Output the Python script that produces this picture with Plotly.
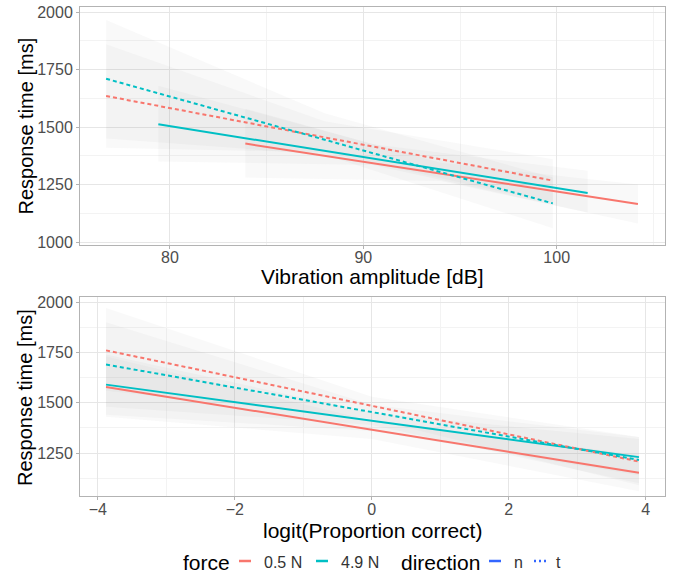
import plotly.graph_objects as go

RED = "#F8766D"
TEAL = "#00BFC4"
BLUE = "#3366FF"

# ---- Top panel: Vibration amplitude [dB] ----
top_colors = [RED, TEAL, RED, TEAL]
top_dash = ["n", "n", "t", "t"]
top_x_start = [83.9, 79.4, 76.7, 76.7]
top_x_mid = [94.0, 90.5, 88.0, 88.0]
top_x_end = [104.2, 101.6, 99.8, 99.8]
top_y_start = [1428, 1512, 1635, 1710]
top_y_end = [1165, 1213, 1267, 1168]
top_lo = [[1280, 1265, 1080], [1350, 1335, 1128], [1410, 1390, 1170], [1450, 1380, 1060]]
top_hi = [[1580, 1345, 1250], [1680, 1425, 1310], [1860, 1525, 1360], [1965, 1560, 1280]]

# ---- Bottom panel: logit(Proportion correct) ----
bot_colors = [RED, TEAL, RED, TEAL]
bot_dash = ["n", "n", "t", "t"]
bot_x_start = [-3.88, -3.88, -3.88, -3.88]
bot_x_mid = [0.0, 0.0, 0.0, 0.0]
bot_x_end = [3.9, 3.9, 3.9, 3.9]
bot_y_start = [1578, 1590, 1760, 1690]
bot_y_end = [1152, 1230, 1208, 1216]
bot_lo = [[1430, 1320, 1060], [1440, 1360, 1140], [1560, 1420, 1090], [1480, 1390, 1100]]
bot_hi = [[1730, 1410, 1240], [1740, 1450, 1320], [1970, 1530, 1330], [1900, 1490, 1330]]

top_xticks = [80, 90, 100]
bot_xticks = [-4, -2, 0, 2, 4]
top_yticks = [1000, 1250, 1500, 1750, 2000]
bot_yticks = [1250, 1500, 1750, 2000]

# text
top_xtitle = "Vibration amplitude [dB]"
bot_xtitle = "logit(Proportion correct)"
ytitle = "Response time [ms]"
force_labels = ["0.5 N", "4.9 N"]
force_colors = [RED, TEAL]
direction_labels = ["n", "t"]

DASH = "4px,3px"
FONT = "Liberation Sans, Arial, sans-serif"
W, H = 684, 577

fig = go.Figure()


def add_panel(xa, ya, xs, xm, xe, ys, ye, lo, hi, colors, dashes):
    for i in range(len(xs)):
        fig.add_trace(go.Scatter(
            x=[xs[i], xm[i], xe[i], xe[i], xm[i], xs[i]],
            y=[lo[i][0], lo[i][1], lo[i][2], hi[i][2], hi[i][1], hi[i][0]],
            fill="toself", fillcolor="rgba(150,150,150,0.058)",
            line=dict(width=0), mode="lines", hoverinfo="skip",
            showlegend=False, xaxis=xa, yaxis=ya))
    for i in range(len(xs)):
        fig.add_trace(go.Scatter(
            x=[xs[i], xe[i]], y=[ys[i], ye[i]], mode="lines",
            line=dict(color=colors[i], width=2,
                      dash=DASH if dashes[i] == "t" else "solid"),
            showlegend=False, xaxis=xa, yaxis=ya))


add_panel("x", "y", top_x_start, top_x_mid, top_x_end, top_y_start, top_y_end,
          top_lo, top_hi, top_colors, top_dash)
add_panel("x2", "y2", bot_x_start, bot_x_mid, bot_x_end, bot_y_start, bot_y_end,
          bot_lo, bot_hi, bot_colors, bot_dash)

xdom = [80 / W, 665 / W]
ydom_top = [1 - 245 / H, 1 - 7 / H]
ydom_bot = [1 - 496 / H, 1 - 297 / H]

common_axis = dict(
    showline=True, mirror=True, linecolor="#B3B3B3", linewidth=1,
    showgrid=True, gridcolor="#E6E6E6", gridwidth=1,
    ticks="outside", ticklen=3, tickcolor="#B3B3B3",
    tickfont=dict(size=16, color="#4D4D4D", family=FONT),
    zeroline=False, automargin=False,
)
minor_style = dict(showgrid=True, gridcolor="#F3F3F3", ticks="")

fig.update_layout(
    width=W, height=H,
    margin=dict(l=0, r=0, t=0, b=0),
    paper_bgcolor="white", plot_bgcolor="white",
    font=dict(family=FONT),
    showlegend=False,
    xaxis=dict(common_axis, domain=xdom, anchor="y", range=[75.35, 105.6],
               tickvals=top_xticks, ticklabelstandoff=-5,
               minor=dict(minor_style, dtick=5, tick0=75)),
    yaxis=dict(common_axis, domain=ydom_top, anchor="x", range=[987, 2022],
               tickvals=top_yticks,
               minor=dict(minor_style, dtick=125, tick0=1000)),
    xaxis2=dict(common_axis, domain=xdom, anchor="y2", range=[-4.26, 4.28],
                tickvals=bot_xticks, ticklabelstandoff=-4,
                minor=dict(minor_style, dtick=1, tick0=-5)),
    yaxis2=dict(common_axis, domain=ydom_bot, anchor="x2", range=[1037, 2025],
                tickvals=bot_yticks,
                minor=dict(minor_style, dtick=125, tick0=1000)),
)


def px(x):
    return x / W


def py(y):
    return 1 - y / H


def text(x0, y0, s, size, color, xanchor="left", angle=0):
    fig.add_annotation(xref="paper", yref="paper", x=px(x0), y=py(y0),
                       xanchor=xanchor, yanchor="middle", showarrow=False,
                       textangle=angle, text=s,
                       font=dict(size=size, color=color, family=FONT))


# axis titles
text(372.5, 277, top_xtitle, 21, "black", "center")
text(372.5, 530, bot_xtitle, 21, "black", "center")
text(25, 126.5, ytitle, 20, "black", "center", -90)
text(25, 398, ytitle, 20, "black", "center", -90)

# manual legend (ggplot style, bottom)
LY = 562


def key(x0, color, dash):
    fig.add_shape(type="line", xref="paper", yref="paper",
                  x0=px(x0), x1=px(x0 + 12), y0=py(LY - 1), y1=py(LY - 1),
                  line=dict(color=color, width=2.5, dash=dash))


text(181, LY, "force", 21, "black")
key(239, force_colors[0], "solid")
text(262, LY, force_labels[0], 16, "#333333")
key(316, force_colors[1], "solid")
text(339, LY, force_labels[1], 16, "#333333")
text(399, LY, "direction", 21, "black")
key(489, BLUE, "solid")
text(512, LY, direction_labels[0], 16, "#333333")
key(534, BLUE, "2px,3px")
text(554, LY, direction_labels[1], 16, "#333333")

fig.write_html("out.html", config={"displayModeBar": False},
               post_script="document.body.style.margin='0';")
